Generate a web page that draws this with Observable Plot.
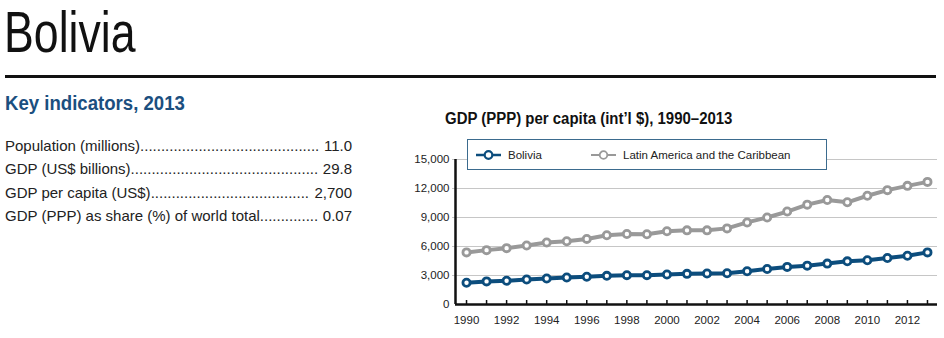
<!DOCTYPE html>
<html>
<head>
<meta charset="utf-8">
<script src="https://cdn.jsdelivr.net/npm/d3@7"></script>
<script src="https://cdn.jsdelivr.net/npm/@observablehq/plot@0.6"></script>
<style>
  html, body { margin: 0; padding: 0; background: #fff; }
  #page { position: relative; width: 944px; height: 338px; overflow: hidden; font-family: "Liberation Sans", Arial, sans-serif; color: #222; }
  .sx { transform-origin: 0 0; white-space: nowrap; }
  #title { position: absolute; left: 4px; top: 0px; font-size: 58px; line-height: 64px; color: #111; transform: scaleX(0.77); }
  #rule { position: absolute; left: 5px; top: 75px; width: 931px; height: 3px; background: #111; }
  #keyhead { position: absolute; left: 5px; top: 91px; font-size: 20px; line-height: 24px; font-weight: bold; color: #1b4f7f; transform: scaleX(0.93); }
  #indicators { position: absolute; left: 5px; top: 134px; width: 347px; }
  .row { display: flex; font-size: 15px; line-height: 23.3px; white-space: nowrap; }
  .row .lab { flex: none; }
  .row .dots { flex: 1 1 auto; overflow: hidden; white-space: nowrap; }
  .row .dots::after { content: "................................................................................................................"; }
  .row .val { flex: none; padding-left: 4px; }
  #charttitle { position: absolute; left: 445px; top: 109px; font-size: 16px; line-height: 20px; font-weight: bold; color: #111; transform: scaleX(0.935); }
  #chart { position: absolute; left: 400px; top: 140px; }
  #legend { position: absolute; left: 467px; top: 139px; width: 358px; height: 29px; border: 1.5px solid #3b6b8e; background: #fff; z-index: 2; font-size: 11.5px; color: #222; }
  .lg { position: absolute; top: 0; height: 29px; display: flex; align-items: center; white-space: nowrap; }
  .lg svg { margin-right: 6px; }
</style>
</head>
<body>
<div id="page">
  <div id="title" class="sx">Bolivia</div>
  <div id="rule"></div>
  <div id="keyhead" class="sx">Key indicators, 2013</div>
  <div id="indicators"></div>
  <div id="charttitle" class="sx">GDP (PPP) per capita (int’l $), 1990–2013</div>
  <div id="legend"></div>
  <div id="chart"></div>
</div>
<script>
// ---- Data ----
const indicatorLabels = ["Population (millions)", "GDP (US$ billions)", "GDP per capita (US$)", "GDP (PPP) as share (%) of world total"];
const indicatorValues = ["11.0", "29.8", "2,700", "0.07"];

const seriesNames = ["Bolivia", "Latin America and the Caribbean"];
const seriesColors = ["#0c4d7d", "#999999"];

const years = [1990, 1991, 1992, 1993, 1994, 1995, 1996, 1997, 1998, 1999, 2000, 2001,
               2002, 2003, 2004, 2005, 2006, 2007, 2008, 2009, 2010, 2011, 2012, 2013];
const bolivia = [2250, 2390, 2455, 2590, 2690, 2800, 2865, 2965, 3035, 3035, 3100, 3170,
                 3205, 3240, 3445, 3680, 3890, 4020, 4230, 4465, 4570, 4810, 5045, 5390];
const latinAmerica = [5390, 5625, 5830, 6100, 6410, 6545, 6785, 7160, 7295, 7260, 7570, 7670,
                      7670, 7875, 8490, 9000, 9615, 10330, 10810, 10570, 11250, 11830, 12275, 12685];

const yTicks = [0, 3000, 6000, 9000, 12000, 15000];
const xTickLabels = [1990, 1992, 1994, 1996, 1998, 2000, 2002, 2004, 2006, 2008, 2010, 2012];

// ---- Indicators ----
const ind = document.getElementById("indicators");
indicatorLabels.forEach((lab, i) => {
  const row = document.createElement("div");
  row.className = "row";
  row.innerHTML = `<span class="lab">${lab}</span><span class="dots"></span><span class="val">${indicatorValues[i]}</span>`;
  ind.appendChild(row);
});

// ---- Legend ----
const legend = document.getElementById("legend");
const legendLeft = [7, 122];
seriesNames.forEach((name, i) => {
  const item = document.createElement("div");
  item.className = "lg";
  item.style.left = legendLeft[i] + "px";
  const c = seriesColors[i];
  item.innerHTML = `<svg width="27" height="12"><line x1="1" x2="26" y1="6" y2="6" stroke="${c}" stroke-width="${i === 0 ? 2.5 : 2}"/><circle cx="13.5" cy="6" r="3.8" fill="white" stroke="${c}" stroke-width="${i === 0 ? 2.2 : 1.8}"/></svg><span>${name}</span>`;
  legend.appendChild(item);
});

// ---- Chart ----
const rows = [];
years.forEach((y, i) => {
  rows.push({year: y, value: bolivia[i], series: seriesNames[0]});
});
years.forEach((y, i) => {
  rows.push({year: y, value: latinAmerica[i], series: seriesNames[1]});
});

const xDomain = [1989.45, 2013.5];

const chart = Plot.plot({
  width: 544,
  height: 198,
  marginLeft: 55,
  marginRight: 7,
  marginTop: 19,
  marginBottom: 34,
  style: {background: "transparent", fontFamily: '"Liberation Sans", Arial, sans-serif', fontSize: "11.5px", color: "#222"},
  x: {domain: xDomain},
  y: {domain: [yTicks[0], yTicks[yTicks.length - 1]]},
  color: {domain: seriesNames, range: seriesColors},
  marks: [
    Plot.ruleY(yTicks.filter(d => d > 0), {stroke: "#c6c6c6", strokeWidth: 1.2, insetLeft: -3}),
    Plot.axisY({ticks: yTicks, tickSize: 0, tickPadding: 6, tickFormat: d3.format(","), label: null, fontSize: 11.5}),
    Plot.axisX({ticks: xTickLabels, tickSize: 0, tickPadding: 11, tickFormat: d => String(d), label: null, fontSize: 11.5}),
    Plot.tickX(years, {x: d => d, insetTop: 141, stroke: "#111", strokeWidth: 1.5}),
    Plot.ruleY([yTicks[0]], {stroke: "#111", strokeWidth: 2.5}),
    Plot.ruleX([xDomain[0]], {stroke: "#111", strokeWidth: 2.5}),
    Plot.line(rows, {x: "year", y: "value", z: "series", stroke: "series", strokeWidth: 4}),
    Plot.dot(rows, {x: "year", y: "value", stroke: "series", fill: "white", r: 3.6, strokeWidth: 2.8})
  ]
});
document.getElementById("chart").appendChild(chart);
</script>
</body>
</html>
